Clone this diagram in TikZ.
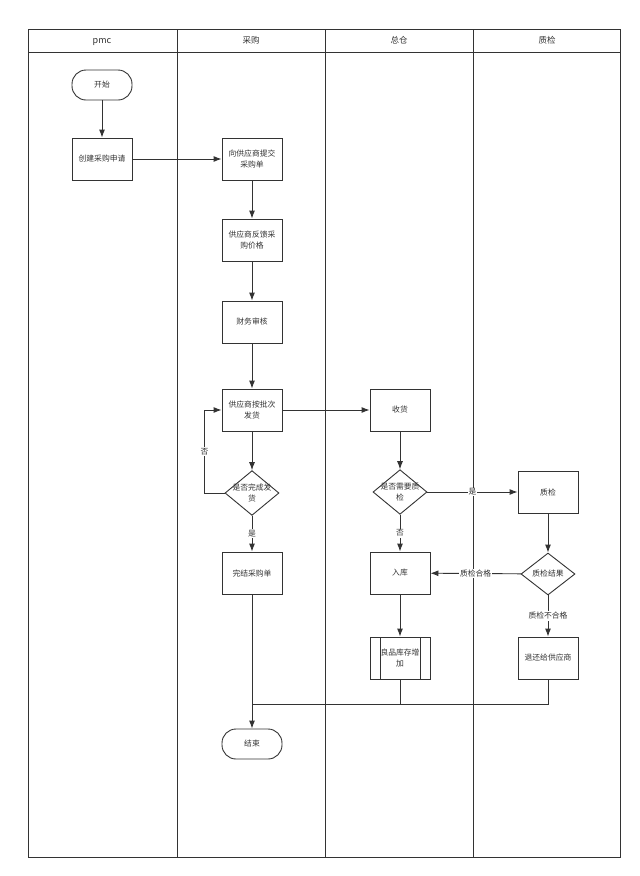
\documentclass[tikz,border=0pt]{standalone}
\usepackage{fontspec}
\setmainfont{Noto Sans CJK SC}
\usetikzlibrary{shapes.geometric,arrows.meta}
\definecolor{lane}{HTML}{333333}
\begin{document}
\begin{tikzpicture}[>={Latex[length=8pt,width=6pt]},x=1pt,y=-1pt,draw=lane,text=lane,line width=.9pt,
    box/.style={draw,fill=white,minimum width=60,minimum height=42,inner sep=1,align=center,font=\fontsize{7.8}{10.5}\selectfont},
    term/.style={box,minimum height=30,rounded corners=14},
    ask/.style={draw,fill=white,diamond,minimum width=54,minimum height=42,inner sep=-3,align=center,font=\fontsize{7.8}{10.5}\selectfont},
    store/.style={box,path picture={\draw([xshift=10]path picture bounding box.north west)--([xshift=10]path picture bounding box.south west);\draw([xshift=-10]path picture bounding box.north east)--([xshift=-10]path picture bounding box.south east);}},
    tag/.style={fill=white,inner sep=1,font=\fontsize{7.8}{10.5}\selectfont}]
    \useasboundingbox(0,0)rectangle(640,876);
    \draw(28,29)rectangle(620,857);
    \draw(28,52)--(620,52);
    \foreach \x in {177,325,473}\draw(\x,29)--(\x,857);
    \node[font=\fontsize{9}{10}\selectfont]at(102,42){pmc};
    \node[font=\fontsize{8.5}{10}\selectfont]at(251,40.5){采购};
    \node[font=\fontsize{8.5}{10}\selectfont]at(399,40.5){总仓};
    \node[font=\fontsize{8.5}{10}\selectfont]at(547,40.5){质检};
    \node[term](start)at(102,85){开始};
    \node[box](apply)at(102,159){创建采购申请};
    \node[box](order)at(252,159){向供应商提交\\采购单};
    \node[box](price)at(252,240){供应商反馈采\\购价格};
    \node[box](audit)at(252,322){财务审核};
    \node[box](ship)at(252,410){供应商按批次\\发货};
    \node[ask](done)at(252,493){是否完成发\\货};
    \node[box](close)at(252,573){完结采购单};
    \node[term](end)at(252,744){结束};
    \node[box](recv)at(400,410){收货};
    \node[ask](need)at(400,492){是否需要质\\检};
    \node[box](inbound)at(400,573){入库};
    \node[store](stock)at(400,658){良品库存增\\加};
    \node[box](check)at(548,492){质检};
    \node[ask](result)at(548,574){质检结果};
    \node[box](back)at(548,658){退还给供应商};
    \coordinate(joint)at(252,704);
    \draw[->](start)--(apply);
    \draw[->](apply)--(order);
    \draw[->](order)--(price);
    \draw[->](price)--(audit);
    \draw[->](audit)--(ship);
    \draw[->](ship)--(done);
    \draw[->](ship)--(recv);
    \draw[->](done.west)--++(-20,0)|-node[tag,pos=.25]{否}(ship.west);
    \draw[->](done)--node[tag]{是}(close);
    \draw[->](close)--(end);
    \draw[->](recv)--(need);
    \draw[->](need)--node[tag]{是}(check);
    \draw[->](need)--node[tag]{否}(inbound);
    \draw[->](check)--(result);
    \draw[->](result)--node[tag]{质检合格}(inbound);
    \draw[->](result)--node[tag]{质检不合格}(back);
    \draw[->](inbound)--(stock);
    \draw(back.south)|-(joint);
    \draw(stock.south)--(stock.south|-joint);
\end{tikzpicture}
\end{document}
